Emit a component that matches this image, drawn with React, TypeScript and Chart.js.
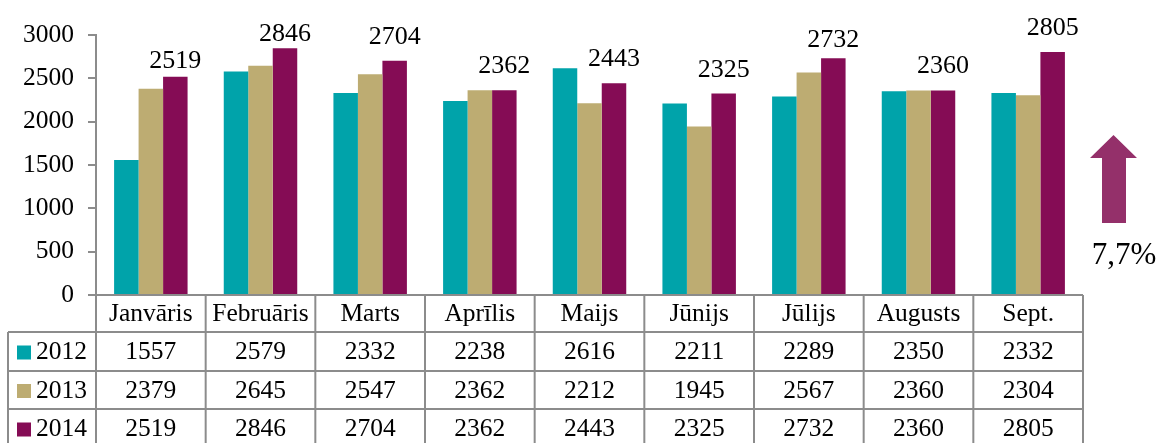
import React, { useEffect, useRef } from "react";
import { Chart, registerables } from "chart.js";

Chart.register(...registerables);

const categories = ["Janvāris", "Februāris", "Marts", "Aprīlis", "Maijs", "Jūnijs", "Jūlijs", "Augusts", "Sept."];
const seriesNames = ["2012", "2013", "2014"];
const values2012 = [1557, 2579, 2332, 2238, 2616, 2211, 2289, 2350, 2332];
const values2013 = [2379, 2645, 2547, 2362, 2212, 1945, 2567, 2360, 2304];
const values2014 = [2519, 2846, 2704, 2362, 2443, 2325, 2732, 2360, 2805];
const seriesColors = ["#00A3AA", "#BDAC72", "#850C55"];
const changeLabel = "7,7%";
const yTicks = [0, 500, 1000, 1500, 2000, 2500, 3000];

// style: gap (px) between each 2014 value label and its bar top
const labelGaps = [9, 7, 17, 17, 17, 17, 11, 17, 17];

const FONT = "'Liberation Serif', 'Times New Roman', serif";
const GRID = "#8c8c8c";

const tablePlugin = {
  id: "tablePlugin",
  afterDraw(chart: any) {
    const ctx = chart.ctx as CanvasRenderingContext2D;
    const area = chart.chartArea;
    const n = categories.length;
    const cw = (area.right - area.left) / n;
    const all = [values2012, values2013, values2014];

    ctx.save();
    const meta = chart.getDatasetMeta(2);
    ctx.font = `26px ${FONT}`;
    ctx.fillStyle = "#000";
    ctx.textAlign = "center";
    ctx.textBaseline = "alphabetic";
    meta.data.forEach((bar: any, i: number) => {
      ctx.fillText(String(values2014[i]), bar.x, bar.y - labelGaps[i]);
    });

    const rowH = [37, 39, 38, 39];
    const top = area.bottom;
    const rows: number[] = [top];
    rowH.forEach((h) => rows.push(rows[rows.length - 1] + h));
    const labelLeft = 8;

    ctx.strokeStyle = GRID;
    ctx.lineWidth = 2;
    ctx.beginPath();
    ctx.moveTo(area.left - 8, top);
    ctx.lineTo(area.right, top);
    ctx.stroke();
    for (let r = 1; r < rows.length; r++) {
      ctx.beginPath();
      ctx.moveTo(labelLeft, rows[r]);
      ctx.lineTo(area.right, rows[r]);
      ctx.stroke();
    }
    for (let c = 0; c <= n; c++) {
      const x = area.left + c * cw;
      ctx.beginPath();
      ctx.moveTo(x, top);
      ctx.lineTo(x, rows[rows.length - 1]);
      ctx.stroke();
    }
    ctx.beginPath();
    ctx.moveTo(labelLeft, rows[1]);
    ctx.lineTo(labelLeft, rows[rows.length - 1]);
    ctx.stroke();

    ctx.font = `25.5px ${FONT}`;
    ctx.fillStyle = "#000";
    ctx.textAlign = "center";
    ctx.textBaseline = "middle";
    categories.forEach((c, i) => {
      ctx.fillText(c, area.left + (i + 0.5) * cw, (rows[0] + rows[1]) / 2 + 1);
    });
    seriesNames.forEach((s, r) => {
      const cy = (rows[r + 1] + rows[r + 2]) / 2 + 1;
      ctx.fillStyle = seriesColors[r];
      ctx.fillRect(17, cy - 7, 14, 14);
      ctx.fillStyle = "#000";
      ctx.textAlign = "left";
      ctx.fillText(s, 36, cy);
      ctx.textAlign = "center";
      all[r].forEach((v, i) => {
        ctx.fillText(String(v), area.left + (i + 0.5) * cw, cy);
      });
    });

    ctx.fillStyle = "#94306A";
    ctx.beginPath();
    ctx.moveTo(1113.5, 135);
    ctx.lineTo(1137, 158);
    ctx.lineTo(1126, 158);
    ctx.lineTo(1126, 223);
    ctx.lineTo(1102, 223);
    ctx.lineTo(1102, 158);
    ctx.lineTo(1090, 158);
    ctx.closePath();
    ctx.fill();

    ctx.fillStyle = "#000";
    ctx.font = `31px ${FONT}`;
    ctx.textAlign = "center";
    ctx.textBaseline = "middle";
    ctx.fillText(changeLabel, 1124, 256);
    ctx.restore();
  },
};

export default function App() {
  const ref = useRef<HTMLCanvasElement>(null);
  useEffect(() => {
    document.body.style.margin = "0";
    const chart = new Chart(ref.current!, {
      type: "bar",
      data: {
        labels: categories,
        datasets: [
          { label: seriesNames[0], data: values2012, backgroundColor: seriesColors[0] },
          { label: seriesNames[1], data: values2013, backgroundColor: seriesColors[1] },
          { label: seriesNames[2], data: values2014, backgroundColor: seriesColors[2] },
        ],
      },
      options: {
        responsive: false,
        animation: false,
        layout: { padding: { left: 0, right: 75, top: 35, bottom: 148 } },
        plugins: { legend: { display: false }, tooltip: { enabled: false } },
        datasets: { bar: { barPercentage: 1, categoryPercentage: 0.67 } },
        scales: {
          x: { display: false },
          y: {
            min: 0,
            max: 3000,
            afterFit: (s: any) => { s.width = 96; },
            afterBuildTicks: (s: any) => { s.ticks = yTicks.map((v) => ({ value: v })); },
            ticks: {
              color: "#000",
              font: { family: FONT, size: 25.5 },
              padding: 14,
              callback: (v: any) => String(v),
            },
            grid: { drawOnChartArea: false, drawTicks: true, tickLength: 8, color: GRID, lineWidth: 2 },
            border: { color: GRID, width: 2 },
          },
        },
      },
      plugins: [tablePlugin],
    });
    return () => chart.destroy();
  }, []);
  return <canvas ref={ref} width={1158} height={443} />;
}
